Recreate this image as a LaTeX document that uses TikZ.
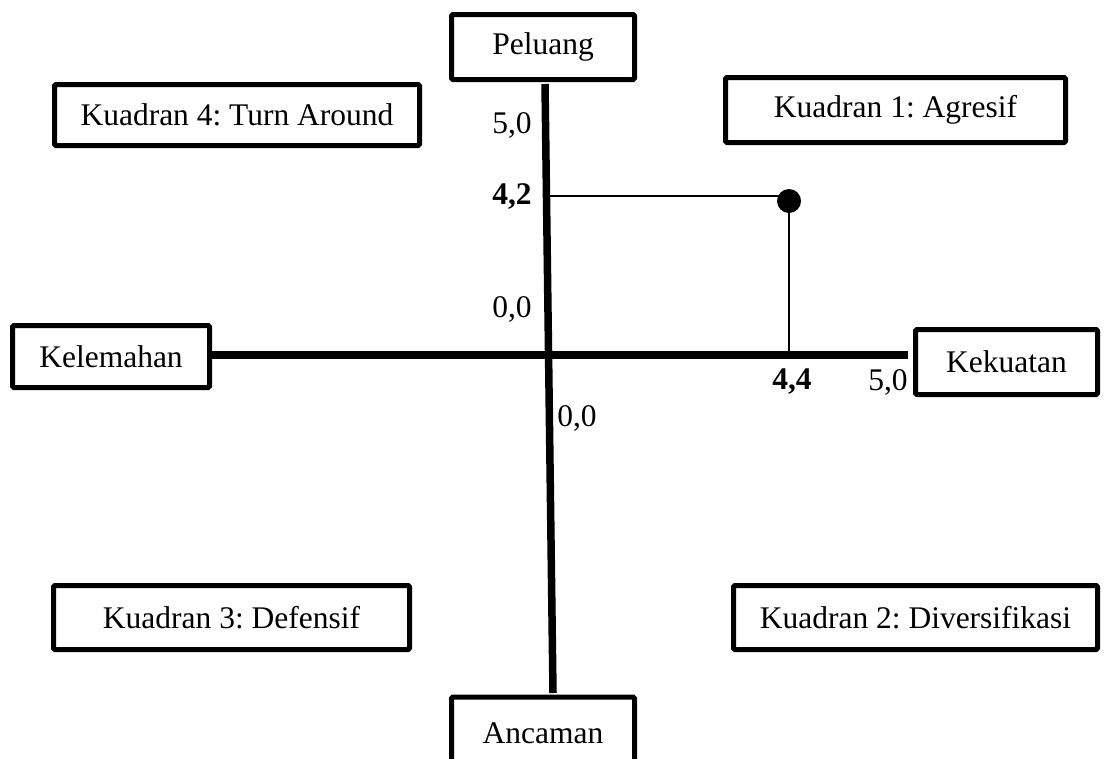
\documentclass[tikz,border=0pt]{standalone}
\usepackage{fontspec}
\setmainfont{Liberation Serif}
\frenchspacing
\begin{document}
\begin{tikzpicture}[x=1pt,y=-1pt,
  box/.style={draw=black, line width=5pt, rounded corners=1.5pt, fill=white, inner sep=0pt,
    font=\fontsize{31.5}{38}\selectfont},
  lbl/.style={inner sep=0pt, font=\fontsize{31.5}{38}\selectfont},
  blbl/.style={inner sep=0pt, font=\fontsize{31.5}{38}\selectfont\bfseries},
  axis/.style={line width=7.5pt},
  thin/.style={line width=1.6pt}]
\useasboundingbox (0,0) rectangle (1108,758);
\clip (0,0) rectangle (1108,758);
% axes coordinates
\coordinate (vtop) at (545,84);
\coordinate (vbot) at (553,693);
\coordinate (hleft) at (212,355);
\coordinate (hright) at (908,355);
\coordinate (y42) at (549,196);
\coordinate (x44) at (789,355);
% boxes
\node[box, minimum width=183pt, minimum height=65pt] (peluang) at (543,47) {Peluang};
\node[box, minimum width=183pt, minimum height=72pt] (ancaman) at (543,733) {Ancaman};
\node[box, minimum width=197pt, minimum height=62pt] (kelemahan) at (111,356.5) {Kelemahan};
\node[box, minimum width=182pt, minimum height=65pt] (kekuatan) at (1006.5,362) {Kekuatan};
\node[box, minimum width=365pt, minimum height=61pt] (k4) at (237,115) {Kuadran 4: Turn Around};
\node[box, minimum width=340pt, minimum height=65pt] (k1) at (895.5,110) {Kuadran 1: Agresif};
\node[box, minimum width=356pt, minimum height=64pt] (k3) at (231.5,617.5) {Kuadran 3: Defensif};
\node[box, minimum width=364pt, minimum height=64pt] (k2) at (915.5,617.5) {Kuadran 2: Diversifikasi};
% axes
\draw[axis] (hleft) -- (hright);
\draw[axis] (vtop) -- (vbot);
% point
\node[circle, fill=black, inner sep=0pt, minimum size=24pt] (pt) at (789,201) {};
\draw[thin] (y42) -- (y42 -| pt);
\draw[thin] (pt) -- (x44);
% labels
\node[lbl] (l50y) at (512,125) {5,0};
\node[blbl] (l42) at (512,197) {4,2};
\node[lbl] (l00y) at (512,309) {0,0};
\node[lbl] (l00x) at (577,418) {0,0};
\node[blbl] (l44) at (792,382) {4,4};
\node[lbl] (l50x) at (888,382) {5,0};
\end{tikzpicture}
\end{document}
